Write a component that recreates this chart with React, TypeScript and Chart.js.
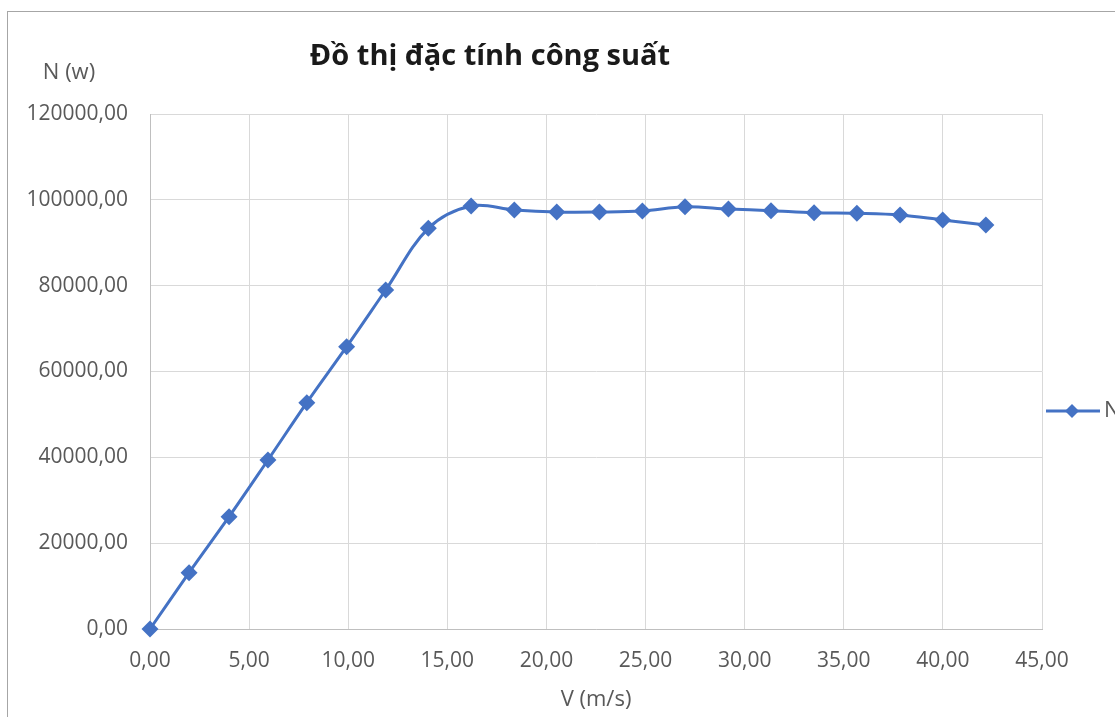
import React, { useEffect, useRef } from "react";
import { Chart, registerables } from "chart.js";

Chart.register(...registerables);

const chartTitle = "Đồ thị đặc tính công suất";
const yAxisTitle = "N (w)";
const xAxisTitle = "V (m/s)";
const seriesName = "N";

const speeds = [0, 1.97, 3.99, 5.95, 7.91, 9.92, 11.89, 14.04, 16.2, 18.38, 20.52, 22.67, 24.84, 26.99, 29.18, 31.33, 33.5, 35.66, 37.84, 39.99, 42.17];
const powers = [0, 13120, 26170, 39380, 52740, 65780, 78990, 93360, 98560, 97630, 97160, 97160, 97400, 98400, 97860, 97470, 97000, 96860, 96470, 95300, 94140];

const xTickValues = [0, 5, 10, 15, 20, 25, 30, 35, 40, 45];
const yTickValues = [0, 20000, 40000, 60000, 80000, 100000, 120000];

const FONT = "'Open Sans', 'Liberation Sans', sans-serif";
const BLUE = "#4472C4";
const GREY_TEXT = "#595959";

const fmt = (v: number) => v.toFixed(2).replace(".", ",");

const CANVAS_W = 1107;
const CANVAS_H = 705;

export default function App() {
  const ref = useRef<HTMLCanvasElement | null>(null);

  useEffect(() => {
    document.body.style.overflow = "hidden";
    const canvas = ref.current;
    if (!canvas) return;

    const overlay = {
      id: "overlay",
      afterDraw(chart: any) {
        const ctx = chart.ctx as CanvasRenderingContext2D;
        const area = chart.chartArea;
        ctx.save();
        // Title
        ctx.fillStyle = "#1a1a1a";
        ctx.font = `bold 29px ${FONT}`;
        ctx.textAlign = "center";
        ctx.textBaseline = "alphabetic";
        ctx.fillText(chartTitle, 482, 53);
        // Y axis title
        ctx.textBaseline = "middle";
        ctx.fillStyle = GREY_TEXT;
        ctx.font = `22px ${FONT}`;
        ctx.fillText(yAxisTitle, 61, 61);
        // X axis title
        ctx.fillText(xAxisTitle, (area.left + area.right) / 2, 688);
        // Legend
        const ly = 399;
        ctx.strokeStyle = BLUE;
        ctx.lineWidth = 3;
        ctx.beginPath();
        ctx.moveTo(1038, ly);
        ctx.lineTo(1092, ly);
        ctx.stroke();
        ctx.fillStyle = BLUE;
        ctx.beginPath();
        ctx.moveTo(1064, ly - 7);
        ctx.lineTo(1071, ly);
        ctx.lineTo(1064, ly + 7);
        ctx.lineTo(1057, ly);
        ctx.closePath();
        ctx.fill();
        ctx.fillStyle = GREY_TEXT;
        ctx.textAlign = "left";
        ctx.fillText(seriesName, 1096, ly);
        ctx.restore();
      },
    };

    const chart = new Chart(canvas, {
      type: "line",
      data: {
        datasets: [
          {
            label: seriesName,
            data: speeds.map((s, i) => ({ x: s, y: powers[i] })),
            borderColor: BLUE,
            backgroundColor: BLUE,
            borderWidth: 3,
            pointStyle: "rectRot",
            pointRadius: 8.5,
            pointHoverRadius: 8.5,
            pointBackgroundColor: BLUE,
            pointBorderColor: BLUE,
            pointBorderWidth: 0,
            tension: 0.35,
            fill: false,
            clip: false,
          },
        ],
      },
      options: {
        responsive: false,
        animation: false,
        layout: { padding: { left: 0, top: 102, right: 73, bottom: 28 } },
        plugins: {
          legend: { display: false },
          title: { display: false },
          tooltip: { enabled: false },
        },
        scales: {
          x: {
            type: "linear",
            min: 0,
            max: 45,
            afterFit: (s: any) => {
              s.height = 60;
            },
            afterBuildTicks: (s: any) => {
              s.ticks = xTickValues.map((v) => ({ value: v }));
            },
            ticks: {
              color: GREY_TEXT,
              font: { family: FONT, size: 21 },
              padding: 19,
              maxRotation: 0,
              callback: (v: any) => fmt(Number(v)),
            },
            grid: { color: "#d9d9d9", lineWidth: 1, drawTicks: false },
            border: { color: "#bfbfbf", width: 1 },
          },
          y: {
            type: "linear",
            min: 0,
            max: 120000,
            afterFit: (s: any) => {
              s.width = 142;
            },
            afterBuildTicks: (s: any) => {
              s.ticks = yTickValues.map((v) => ({ value: v }));
            },
            ticks: {
              color: GREY_TEXT,
              font: { family: FONT, size: 21 },
              padding: 22,
              callback: (v: any) => fmt(Number(v)),
            },
            grid: { color: "#d9d9d9", lineWidth: 1, drawTicks: false },
            border: { color: "#bfbfbf", width: 1 },
          },
        },
      },
      plugins: [overlay],
    });

    return () => chart.destroy();
  }, []);

  return (
    <div
      style={{
        position: "absolute",
        left: 7,
        top: 11,
        width: 1108,
        height: 706,
        boxSizing: "border-box",
        borderTop: "1px solid #a6a6a6",
        borderLeft: "1px solid #a6a6a6",
        background: "#fff",
        overflow: "hidden",
      }}
    >
      <canvas ref={ref} width={CANVAS_W} height={CANVAS_H} style={{ display: "block", width: CANVAS_W, height: CANVAS_H }} />
    </div>
  );
}
